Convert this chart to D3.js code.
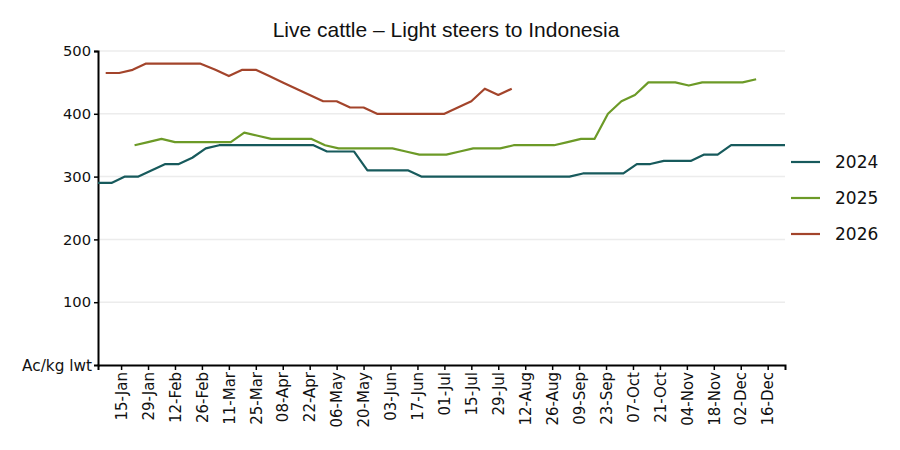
<!DOCTYPE html>
<html>
<head>
<meta charset="utf-8">
<script src="https://cdn.jsdelivr.net/npm/d3@7"></script>
<style>
  body { margin: 0; background: #fff; }
  svg { display: block; }
  text { font-family: "DejaVu Sans", sans-serif; fill: #111; }
</style>
</head>
<body>
<div class="container"></div>
<script>
// weekly prices, c/kg lwt; each series starts on its first date and steps one week
var seriesNames = ['2024', '2025', '2026'];
var seriesStarts = ['2024-01-03', '2025-01-22', '2026-01-07'];
var values2024 = [290, 290, 300, 300, 310, 320, 320, 330, 345, 350, 350, 350, 350, 350, 350, 350, 350,
	340, 340, 340, 310, 310, 310, 310, 300, 300, 300, 300, 300, 300, 300, 300, 300, 300, 300, 300,
	305, 305, 305, 305, 320, 320, 325, 325, 325, 335, 335, 350, 350, 350, 350, 350];
var values2025 = [350, 355, 360, 355, 355, 355, 355, 355, 370, 365, 360, 360, 360, 360, 350, 345,
	345, 345, 345, 345, 340, 335, 335, 335, 340, 345, 345, 345, 350, 350, 350, 350, 355, 360, 360,
	400, 420, 430, 450, 450, 450, 445, 450, 450, 450, 450, 455];
var values2026 = [465, 465, 470, 480, 480, 480, 480, 480, 470, 460, 470, 470, 460, 450, 440, 430,
	420, 420, 410, 410, 400, 400, 400, 400, 400, 400, 410, 420, 440, 430, 440];
var seriesColors = ['#175a5c', '#6c9a27', '#a3442b'];

var xTickLabels = ['15-Jan', '29-Jan', '12-Feb', '26-Feb', '11-Mar', '25-Mar', '08-Apr', '22-Apr',
	'06-May', '20-May', '03-Jun', '17-Jun', '01-Jul', '15-Jul', '29-Jul', '12-Aug', '26-Aug',
	'09-Sep', '23-Sep', '07-Oct', '21-Oct', '04-Nov', '18-Nov', '02-Dec', '16-Dec'];
var yTicks = [100, 200, 300, 400, 500];
var xStart = '2024-01-03', xEnd = '2024-12-25';

var width = 900, height = 450;
var margin = {top: 51, right: 115, bottom: 85, left: 98};

var parseIso = d3.timeParse('%Y-%m-%d');
var parseTick = d3.timeParse('%d-%b-%Y');

// put every year on the same (2024) calendar so the seasons line up
function toBaseYear(d) {
	var c = new Date(d);
	c.setFullYear(2024);
	return c;
}

var allValues = [values2024, values2025, values2026];
var series = seriesNames.map(function(name, i) {
	var start = parseIso(seriesStarts[i]);
	return {
		name: name,
		color: seriesColors[i],
		points: allValues[i].map(function(v, k) {
			return {date: toBaseYear(d3.timeDay.offset(start, 7 * k)), value: v};
		})
	};
});

var svg = d3.select('.container').append('svg')
	.attr('width', width)
	.attr('height', height);

var x = d3.scaleTime()
	.domain([parseIso(xStart), parseIso(xEnd)])
	.range([margin.left, width - margin.right]);

var y = d3.scaleLinear()
	.domain([0, 500])
	.range([height - margin.bottom, margin.top]);

svg.append('text')
	.attr('x', 446)
	.attr('y', 37)
	.attr('text-anchor', 'middle')
	.style('font-family', '"Liberation Sans", Arial, sans-serif')
	.style('font-size', '21px')
	.text('Live cattle \u2013 Light steers to Indonesia');

// gridlines
svg.append('g')
	.selectAll('line')
	.data(yTicks)
	.enter().append('line')
	.attr('x1', margin.left)
	.attr('x2', width - margin.right)
	.attr('y1', function(d) { return y(d); })
	.attr('y2', function(d) { return y(d); })
	.style('stroke', '#ececec')
	.style('stroke-width', 1.5);

var yAxis = svg.append('g')
	.attr('transform', 'translate(' + margin.left + ',0)')
	.call(d3.axisLeft(y).tickValues(yTicks).tickSize(4).tickPadding(3));
yAxis.select('.domain').style('stroke', '#000').style('stroke-width', 2);
yAxis.selectAll('.tick line').style('stroke', '#000').style('stroke-width', 1.5);
yAxis.selectAll('.tick text').style('font-size', '14.7px');

svg.append('text')
	.attr('x', 92)
	.attr('y', y(0) + 6)
	.attr('text-anchor', 'end')
	.style('font-size', '15.3px')
	.text('Ac/kg lwt');

var tickDates = xTickLabels.map(function(t) { return parseTick(t + '-2024'); });
var xAxis = svg.append('g')
	.attr('transform', 'translate(0,' + y(0) + ')')
	.call(d3.axisBottom(x).tickValues(tickDates).tickSize(5)
		.tickFormat(function(d, i) { return xTickLabels[i]; }));
xAxis.select('.domain').style('stroke', '#000').style('stroke-width', 2);
xAxis.selectAll('.tick line').style('stroke', '#000').style('stroke-width', 1.5);
xAxis.selectAll('.tick text')
	.style('font-size', '15px')
	.attr('text-anchor', 'end')
	.attr('transform', 'rotate(-90)')
	.attr('x', -7)
	.attr('y', 0)
	.attr('dy', '0.35em');

var line = d3.line()
	.x(function(d) { return x(d.date); })
	.y(function(d) { return y(d.value); });

svg.append('g')
	.selectAll('path')
	.data(series)
	.enter().append('path')
	.attr('d', function(d) { return line(d.points); })
	.style('fill', 'none')
	.style('stroke', function(d) { return d.color; })
	.style('stroke-width', 2.2)
	.style('stroke-linejoin', 'round');

// legend
var legend = svg.append('g')
	.selectAll('g')
	.data(series)
	.enter().append('g')
	.attr('transform', function(d, i) { return 'translate(791,' + (162 + i * 36) + ')'; });

legend.append('line')
	.attr('x1', 0)
	.attr('x2', 29)
	.style('stroke', function(d) { return d.color; })
	.style('stroke-width', 2.2);

legend.append('text')
	.attr('x', 44)
	.attr('dy', '0.35em')
	.style('font-size', '17px')
	.text(function(d) { return d.name; });
</script>
</body>
</html>
